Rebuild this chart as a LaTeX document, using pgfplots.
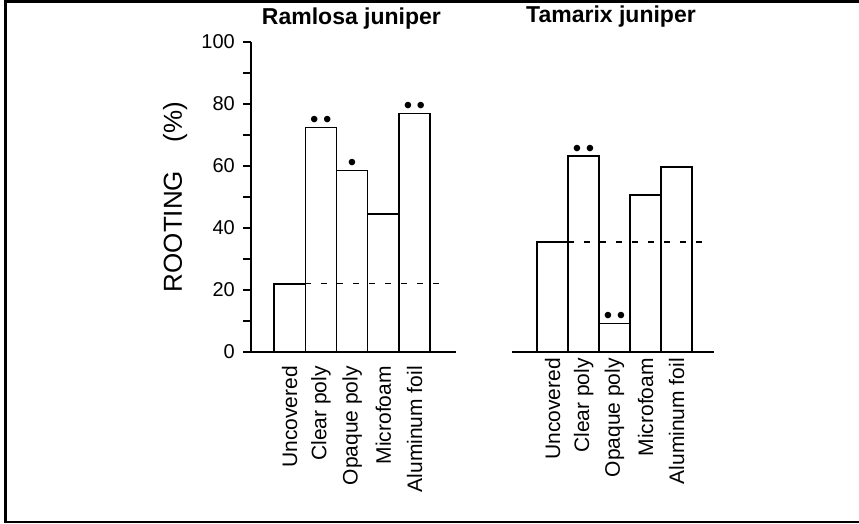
\documentclass[border=0pt]{standalone}
\usepackage{fontspec}
\setmainfont{Liberation Sans}
\usepackage{pgfplots}
\pgfplotsset{compat=1.18}
\newcommand\dd{\textbullet\hspace{4.5pt}\textbullet}
\newcommand\sd{\textbullet}
\begin{document}
\begin{tikzpicture}
\useasboundingbox (0pt,0pt) rectangle (859pt,-524pt);
\draw[line width=2.5pt] (860pt,-1.5pt) -- (5.3pt,-1.5pt) -- (5.3pt,-522pt) -- (860pt,-522pt);
\pgfplotsset{
  jun/.style={
    scale only axis, width=#1, height=310pt,
    ymin=0, ymax=100,
    axis x line*=bottom, axis line style={line width=1.8pt},
    xtick={0,1,2,3,4},
    xticklabels={Uncovered, Clear poly, Opaque poly, Microfoam, Aluminum foil},
    x tick label style={rotate=90, anchor=east, font=\fontsize{21}{23}\selectfont, inner sep=2pt},
    major x tick style={draw=none},
    xticklabel shift=4pt,
    title style={font=\fontsize{23}{26}\selectfont\bfseries, anchor=center},
    /pgf/number format/assume math mode=true,
    clip=false,
  },
  barsty/.style={ybar, bar width=31.2pt, fill=white, draw=black, line width=1.4pt,
    nodes near coords, point meta=explicit symbolic,
    every node near coord/.append style={font=\fontsize{24}{24}\selectfont, inner sep=0pt, yshift=-1pt}},
}
\begin{axis}[jun=205pt, at={(251pt,-352pt)}, anchor=south west,
  xmin=-1.24, xmax=5.33,
  axis y line*=left,
  ytick={0,20,40,60,80,100}, minor ytick={10,30,50,70,90},
  tick align=outside, major tick length=8pt, minor tick length=8pt,
  every tick/.style={line width=1.6pt, black},
  y tick label style={font=\fontsize{20}{22}\selectfont, inner sep=2pt, xshift=-6pt},
  ylabel={ROOTING\hspace{1.1em}(\%)},
  ylabel style={at={(rel axis cs:-0.37,0.5)}, anchor=center, font=\fontsize{26}{28}\selectfont},
  title={Ramlosa juniper}, title style={at={(rel axis cs:0.49,1.055)}},
]
\addplot[barsty] coordinates {(0,22)[\relax] (1,72.5)[\dd] (2,58.5)[\sd] (3,44.5)[\relax] (4,77)[\dd]};
\addplot[dashed, line width=1.1pt, dash pattern=on 6pt off 10pt] coordinates {(0.5,22) (4.92,22)};
\end{axis}
\begin{axis}[jun=202pt, at={(512pt,-352pt)}, anchor=south west,
  xmin=-1.31, xmax=5.21,
  axis y line=none,
  title={Tamarix juniper}, title style={at={(rel axis cs:0.49,1.063)}},
]
\addplot[barsty, bar width=31pt] coordinates {(0,35.5)[\relax] (1,63.2)[\dd] (2,9.2)[\dd] (3,50.6)[\relax] (4,59.7)[\relax]};
\addplot[dashed, line width=1.1pt, dash pattern=on 6pt off 10pt] coordinates {(0.5,35.5) (4.98,35.5)};
\end{axis}
\end{tikzpicture}
\end{document}
